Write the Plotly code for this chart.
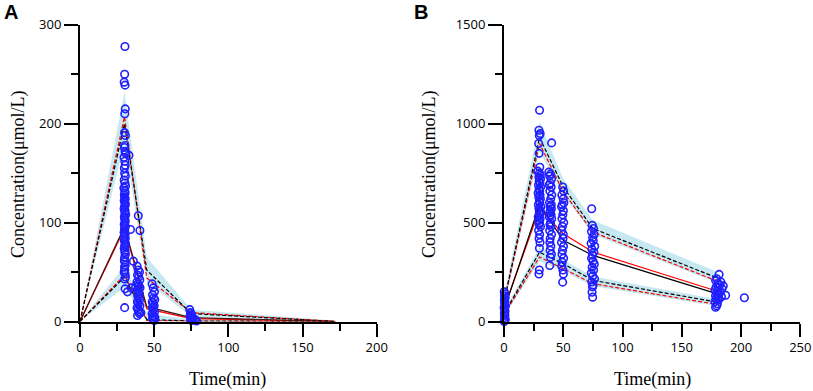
import plotly.graph_objects as go

W, H = 813, 391

# ---------------- Panel A data ----------------
a_obs_time = [
    30.3, 30.1, 29.8, 30.4, 30.5, 30.2, 30.0, 30.6, 30.3, 29.9, 30.4, 30.8, 29.7, 30.2,
    30.5, 29.9, 30.1, 30.6, 29.8, 30.3, 30.7, 29.6, 30.2, 30.4, 29.9, 30.1, 30.5, 29.8,
    30.3, 30.6, 30.0, 29.7, 30.4, 30.2, 30.8, 29.9, 30.1, 30.5, 30.3, 29.8, 30.6, 30.0,
    30.2, 29.7, 30.4, 30.1, 30.5, 29.9, 30.3, 30.7, 30.0, 29.8, 30.4, 30.2, 30.6, 30.1,
    29.9, 30.3, 30.5, 30.0, 30.2, 29.8, 30.4, 30.6, 30.1, 30.4, 32.0, 30.1,
    33.0, 34.0, 36.0, 39.3, 40.4, 34.5,
    38.5, 39.2, 40.1, 38.8, 39.6, 40.3, 38.4, 39.0, 39.8, 40.5, 38.6, 39.4, 40.0, 38.9,
    39.5, 40.2, 38.7, 39.3, 40.4, 38.5, 39.1, 39.7, 40.0, 38.8, 37.5, 41.0,
    48.6, 49.4, 50.2, 48.9, 49.7, 50.4, 48.7, 49.2, 50.0, 48.8, 49.5, 50.3, 48.6, 49.1,
    49.9, 50.5, 48.9, 49.6, 50.1,
    74.0, 74.5, 75.2, 74.3, 75.0, 75.6, 74.8, 76.3, 77.5, 74.6, 75.4, 78.5,
]
a_obs_conc = [
    278, 250, 242, 239, 215, 210, 191, 188, 178, 176, 172, 170, 166, 162,
    158, 155, 150, 147, 143, 140, 137, 135, 132, 130, 128, 126, 124, 122,
    120, 118, 116, 114, 112, 110, 108, 106, 104, 102, 100, 98, 96, 94,
    92, 90, 88, 86, 84, 82, 80, 78, 76, 74, 72, 70, 68, 65,
    62, 60, 57, 55, 52, 50, 48, 45, 43, 33, 30, 14,
    168, 93, 61, 107, 92, 34,
    56, 52, 50, 47, 45, 42, 40, 38, 36, 34, 32, 30, 28, 26,
    24, 22, 20, 18, 16, 14, 12, 10, 8, 6, 35, 9,
    38, 34, 30, 27, 24, 22, 20, 18, 16, 14, 12, 10, 8, 6,
    5, 4, 3, 2, 1,
    12, 9, 7, 6, 5, 4, 3, 2.5, 2, 1.5, 1, 0.5,
]

a_line_time = [0, 30, 45, 75, 172]
a_sim_hi = [0, 200, 52, 8, 0]
a_sim_med = [0, 96, 15, 4, 0]
a_sim_lo = [0, 45, 2, 0.5, 0]
a_obs_hi = [0, 207, 44, 9, 0]
a_obs_med = [0, 94, 13, 3, 0]
a_obs_lo = [0, 47, 1, 0.3, 0]
a_band_hi_top = [0, 232, 65, 12, 1]
a_band_hi_bot = [0, 180, 40, 5, 0]
a_band_lo_top = [0, 56, 8, 2, 0]
a_band_lo_bot = [0, 35, 0, 0, 0]

# ---------------- Panel B data ----------------
b_obs_time = [
    0.2, 0.8, 0.4, 1.0, 0.3, 0.7, 0.5, 1.2, 0.1, 0.6, 0.9, 0.3, 0.8, 0.4, 1.1, 0.5, 0.2,
    30.0, 29.5, 30.5, 29.8, 29.2, 29.6, 30.2, 28.5, 29.9, 30.6, 29.4, 30.8, 29.7, 30.3,
    29.1, 30.9, 29.6, 30.1, 28.8, 30.4, 29.3, 30.7, 29.9, 30.2, 29.0, 31.0, 29.5, 30.6,
    29.8, 30.3, 28.9, 30.5, 29.4, 30.0, 29.7, 30.8, 29.2, 30.1, 29.6, 30.4, 29.9, 29.8, 29.5,
    40.2, 37.8, 39.2, 38.5, 40.1, 39.0, 38.2, 39.8, 38.7, 40.3, 39.4, 38.4, 39.9, 38.9,
    40.0, 39.1, 38.6, 39.7, 38.3, 40.2, 39.3, 38.8, 39.6, 38.5, 40.1, 39.0, 38.7, 39.5,
    38.9, 40.0, 39.2, 38.6,
    49.5, 50.3, 48.8, 49.9, 50.5, 49.2, 48.6, 50.1, 49.6, 48.9, 50.4, 49.3, 48.7, 50.0,
    49.8, 48.5, 50.2, 49.4, 48.9, 50.3, 49.1, 48.8, 49.7, 50.1, 49.5,
    74.0, 74.5, 75.5, 73.8, 76.0, 74.8, 75.3, 73.5, 76.5, 74.2, 75.8, 74.6, 73.9, 75.1,
    76.2, 74.4, 75.6, 73.7, 74.9, 76.4, 74.1, 75.2, 74.7, 74.3, 74.8,
    181.5, 179.5, 178.5, 183.0, 180.5, 182.0, 185.0, 179.0, 181.0, 184.0, 178.0, 180.0,
    182.5, 179.5, 181.5, 187.0, 178.5, 183.5, 180.5, 179.0, 181.0, 178.0, 180.0, 179.5,
    178.5, 202.8,
]
b_obs_conc = [
    150, 140, 130, 120, 110, 100, 90, 80, 70, 60, 50, 40, 30, 20, 10, 5, 0,
    1068, 967, 950, 940, 900, 850, 780, 760, 750, 740, 730, 720, 710, 700,
    690, 680, 670, 660, 650, 640, 630, 620, 610, 600, 590, 580, 570, 560,
    550, 540, 530, 520, 510, 500, 490, 480, 460, 440, 420, 400, 370, 260, 240,
    903, 755, 745, 735, 720, 700, 690, 680, 660, 640, 620, 600, 590, 580,
    570, 560, 550, 540, 530, 520, 500, 490, 480, 460, 440, 420, 400, 380,
    360, 340, 325, 283,
    680, 660, 640, 620, 600, 590, 580, 560, 540, 520, 500, 480, 460, 440,
    420, 400, 380, 360, 340, 320, 300, 280, 260, 240, 199,
    570, 486, 470, 455, 440, 425, 410, 395, 380, 365, 350, 335, 320, 305,
    290, 275, 260, 245, 230, 215, 200, 185, 175, 148, 123,
    238, 216, 208, 200, 192, 185, 180, 175, 170, 165, 160, 155,
    150, 145, 140, 133, 130, 125, 120, 115, 110, 100, 90, 80,
    72, 120,
]

b_line_time = [0, 30, 50, 75, 180]
b_sim_hi = [100, 930, 680, 470, 220]
b_sim_med = [60, 590, 410, 334, 140]
b_sim_lo = [40, 350, 292, 208, 98]
b_obs_hi = [95, 900, 655, 452, 204]
b_obs_med = [65, 570, 444, 351, 153]
b_obs_lo = [35, 326, 267, 191, 86]
b_band_hi_top = [130, 1010, 720, 512, 250]
b_band_hi_bot = [80, 860, 640, 440, 196]
b_band_lo_top = [55, 375, 312, 228, 112]
b_band_lo_bot = [25, 305, 255, 178, 78]

# ---------------- styles ----------------
BAND = "rgba(192,230,239,0.9)"
MARK = "#1f1fff"
DASH = "4px,2px"

fig = go.Figure()


def add_panel(xa, ya, t, bands, lines, ot, oc):
    for top, bot in bands:
        fig.add_trace(go.Scatter(
            x=list(t) + list(t)[::-1], y=list(top) + list(bot)[::-1],
            fill="toself", fillcolor=BAND, line=dict(width=0),
            mode="lines", hoverinfo="skip", showlegend=False, xaxis=xa, yaxis=ya))
    for vals, color, dash in lines:
        fig.add_trace(go.Scatter(
            x=t, y=vals, mode="lines", line=dict(color=color, width=1.2, dash=dash),
            showlegend=False, xaxis=xa, yaxis=ya, cliponaxis=False))
    fig.add_trace(go.Scatter(
        x=ot, y=oc, mode="markers",
        marker=dict(symbol="circle-open", size=7.5, color=MARK, line=dict(width=1.6, color=MARK)),
        showlegend=False, xaxis=xa, yaxis=ya, cliponaxis=False))


add_panel("x", "y", a_line_time,
          [(a_band_hi_top, a_band_hi_bot), (a_band_lo_top, a_band_lo_bot)],
          [(a_obs_hi, "red", DASH), (a_obs_lo, "red", DASH), (a_obs_med, "red", "solid"),
           (a_sim_hi, "black", DASH), (a_sim_lo, "black", DASH), (a_sim_med, "#3a1a14", "solid")],
          a_obs_time, a_obs_conc)

add_panel("x2", "y2", b_line_time,
          [(b_band_hi_top, b_band_hi_bot), (b_band_lo_top, b_band_lo_bot)],
          [(b_obs_hi, "red", DASH), (b_obs_lo, "red", DASH), (b_obs_med, "red", "solid"),
           (b_sim_hi, "black", DASH), (b_sim_lo, "black", DASH), (b_sim_med, "black", "solid")],
          b_obs_time, b_obs_conc)

tickfont = dict(family="Open Sans", size=13, color="black")
common = dict(showgrid=False, zeroline=False, showline=True, linecolor="black", linewidth=2,
              ticks="outside", tickcolor="black", tickwidth=1.5, tickfont=tickfont,
              automargin=False)

ydom = [(H - 321.5) / H, (H - 24.8) / H]
fig.update_layout(
    width=W, height=H, margin=dict(l=0, r=0, t=0, b=0, pad=0),
    plot_bgcolor="white", paper_bgcolor="white",
    xaxis=dict(domain=[80 / W, 376.7 / W], range=[0, 200], dtick=50, ticklen=13,
               minor=dict(dtick=25, ticks="outside", ticklen=7, tickcolor="black", tickwidth=1.5),
               anchor="y", **common),
    yaxis=dict(domain=ydom, range=[0, 300], dtick=100, ticklen=14,
               minor=dict(dtick=50, ticks="outside", ticklen=7, tickcolor="black", tickwidth=1.5),
               anchor="x", **common),
    xaxis2=dict(domain=[504 / W, 800.3 / W], range=[0, 250], dtick=50, ticklen=13,
                minor=dict(dtick=25, ticks="outside", ticklen=7, tickcolor="black", tickwidth=1.5),
                anchor="y2", **common),
    yaxis2=dict(domain=ydom, range=[0, 1500], dtick=500, ticklen=14,
                minor=dict(dtick=250, ticks="outside", ticklen=7, tickcolor="black", tickwidth=1.5),
                anchor="x2", **common),
)

serif = dict(family="Liberation Serif", size=18, color="black")
ann = [
    dict(text="Concentration(μmol/L)", x=18 / W, y=(H - 174) / H, textangle=-90, font=serif),
    dict(text="Concentration(μmol/L)", x=429 / W, y=(H - 174) / H, textangle=-90, font=serif),
    dict(text="Time(min)", x=228 / W, y=(H - 379) / H, font=serif),
    dict(text="Time(min)", x=652 / W, y=(H - 379) / H, font=serif),
    dict(text="<b>A</b>", x=11 / W, y=(H - 12) / H, font=dict(family="Liberation Sans", size=20, color="black")),
    dict(text="<b>B</b>", x=421 / W, y=(H - 12) / H, font=dict(family="Liberation Sans", size=20, color="black")),
]
for a in ann:
    fig.add_annotation(xref="paper", yref="paper", showarrow=False,
                       xanchor="center", yanchor="middle", **a)

fig.write_html("out.html", config={"displayModeBar": False},
               post_script="document.body.style.margin='0';document.body.style.overflow='hidden';")
